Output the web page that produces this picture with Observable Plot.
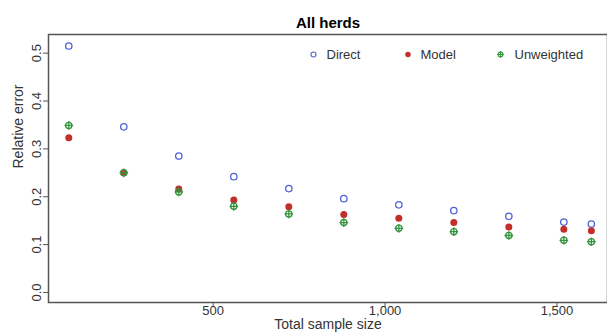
<!DOCTYPE html>
<html>
<head>
<meta charset="utf-8">
<script src="https://cdn.jsdelivr.net/npm/d3@7"></script>
<script src="https://cdn.jsdelivr.net/npm/@observablehq/plot@0.6"></script>
<style>
  html, body { margin: 0; padding: 0; background: #fff; }
  #chart svg { display: block; }
</style>
</head>
<body>
<div id="chart"></div>
<script>
// Total sample size for each design
const sampleSize = [80, 240, 400, 560, 720, 880, 1040, 1200, 1360, 1520, 1600];
// Relative error by estimator
const direct     = [0.515, 0.346, 0.285, 0.242, 0.217, 0.196, 0.183, 0.171, 0.159, 0.147, 0.143];
const model      = [0.323, 0.250, 0.216, 0.193, 0.179, 0.163, 0.155, 0.146, 0.137, 0.132, 0.129];
const unweighted = [0.349, 0.250, 0.210, 0.180, 0.164, 0.146, 0.134, 0.127, 0.119, 0.109, 0.106];
// Axis ticks
const yTicks = [0, 0.1, 0.2, 0.3, 0.4, 0.5];
const xTicks = [500, 1000, 1500];
const seriesNames = ["Direct", "Model", "Unweighted"];

const colors = { Direct: "#4f63d2", Model: "#c22f2a", Unweighted: "#36943f" };

const rows = (vals) => sampleSize.map((n, i) => ({ n, v: vals[i] }));

const font = "'Liberation Sans', Arial, Helvetica, sans-serif";
const ink = "#333";

// legend layout: swatch offset and label offset from the left of the frame
const legendY = 20;
const swatchX = [265, 359.5, 452];
const labelX = [278, 372, 466];

// draws one estimator's markers (open circle, filled dot, or circle-plus)
function markers(data, name, opts) {
  const c = colors[name];
  const big = opts.legend ? 0.78 : 1;
  const sw = opts.legend ? 1.1 : 1.3;
  if (name === "Direct") {
    return [Plot.dot(data, { ...opts.pos, r: 3.2 * big, stroke: c, strokeWidth: sw, fill: "none" })];
  }
  if (name === "Model") {
    return [Plot.dot(data, { ...opts.pos, r: 3.5 * big, fill: c, stroke: "none" })];
  }
  return [
    Plot.dot(data, { ...opts.pos, r: 3.1 * big, stroke: c, strokeWidth: sw, fill: "none" }),
    Plot.dot(data, { ...opts.pos, r: 2.9 * big, symbol: "plus", stroke: c, strokeWidth: sw })
  ];
}

const series = { Direct: direct, Model: model, Unweighted: unweighted };

const chart = Plot.plot({
  width: 607,
  height: 336,
  marginTop: 34,
  marginBottom: 34,
  marginLeft: 48,
  marginRight: 0,
  style: { fontFamily: font, fontSize: "13px", color: ink, background: "#fff" },
  x: { domain: [21, 1647] },
  y: { domain: [-0.021, 0.539] },
  marks: [
    // title
    Plot.text(["All herds"], {
      frameAnchor: "top", dy: -17, fontSize: 15, fontWeight: "bold", fill: "#000"
    }),
    // axes
    Plot.axisY(yTicks, {
      tickSize: 5, tickPadding: 3, tickRotate: -90, tickFormat: d3.format(".1f"),
      label: null, stroke: "#555", fill: ink, fontSize: 13
    }),
    Plot.axisX(xTicks, {
      tickSize: 5, tickPadding: -2, tickFormat: d3.format(","),
      label: null, stroke: "#555", fill: ink, fontSize: 13
    }),
    Plot.text(["Relative error"], {
      frameAnchor: "left", rotate: -90, dx: -30, fontSize: 14, fill: ink
    }),
    Plot.text(["Total sample size"], {
      frameAnchor: "bottom", dy: 26, fontSize: 14, fill: ink
    }),
    // plot box
    Plot.frame({ stroke: "#555", strokeWidth: 1.5 }),
    // data
    ...seriesNames.flatMap(name =>
      markers(rows(series[name]), name, { pos: { x: "n", y: "v" } })
    ),
    // legend
    ...seriesNames.flatMap((name, i) =>
      markers([name], name, {
        legend: true,
        pos: { frameAnchor: "top-left", dx: swatchX[i], dy: legendY }
      })
    ),
    ...seriesNames.map((name, i) =>
      Plot.text([name], {
        frameAnchor: "top-left",
        dx: labelX[i],
        dy: legendY,
        lineAnchor: "middle",
        textAnchor: "start",
        fill: ink,
        fontSize: 13
      })
    )
  ]
});

document.getElementById("chart").appendChild(chart);
</script>
</body>
</html>
